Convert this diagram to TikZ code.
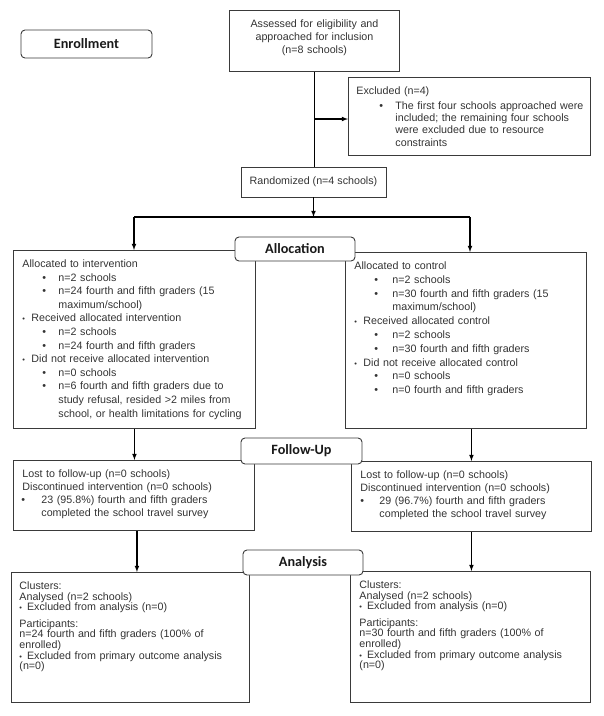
\documentclass[tikz,border=0pt]{standalone}
\usepackage{fontspec}
\setmainfont{Liberation Sans}
\newfontfamily\calibri{Carlito}
\definecolor{txtgray}{HTML}{333333}
\definecolor{linegray}{HTML}{3A3A3A}
\setlength{\parskip}{1pt}
\setlength{\parindent}{0pt}
\newcommand{\smallbul}{{\fontsize{7.5}{7.5}\selectfont\textbullet}}
\newcommand{\bul}[4][\textbullet]{\par{\leftskip=#3\rightskip=-30pt plus 1fil\noindent\hskip\dimexpr#2-#3\relax\makebox[\dimexpr#3-#2\relax][l]{#1}#4\par}}
\tikzset{
  box/.style={draw=linegray, line width=0.9pt, anchor=north west, inner xsep=9pt, inner ysep=9pt,
    text height=8pt, align=left, text=txtgray, font=\fontsize{10.7}{13}\selectfont},
  stage/.style={draw=linegray, line width=0.9pt, rounded corners=4pt, fill=white, inner sep=0pt,
    text=black!90, font=\calibri\bfseries\fontsize{14.2}{16}\selectfont},
  arr/.style={draw, line width=1.1pt, -latex}
}
\begin{document}
\begin{tikzpicture}[x=1pt, y=-1pt]
\useasboundingbox (0,0) rectangle (604,716);
\node [box, text width=152pt, text depth=35pt, align=center] (assess) at (229,10) {Assessed for eligibility and\\ approached for inclusion\\ (n=8 schools)};
\node [box, inner xsep=8pt, text width=226pt, text depth=52pt, font=\fontsize{10.7}{12.2}\selectfont] (excl) at (348,77) {Excluded (n=4)\par\vspace{2.8pt}
  \bul{23pt}{39pt}{The first four schools approached were\newline included; the remaining four schools\newline were excluded due to resource\newline constraints}};
\node [draw=linegray, line width=0.9pt, minimum width=145pt, minimum height=30pt, inner sep=0pt, text=txtgray, font=\fontsize{10.7}{13}\selectfont] (random) at (313.5,182) {Randomized (n=4 schools)};
\node [box, text width=224pt, text depth=152pt, font=\fontsize{10.7}{13.6}\selectfont] (alloc1) at (13,250) {Allocated to intervention
  \bul{20pt}{36pt}{n=2 schools}
  \bul{20pt}{36pt}{n=24 fourth and fifth graders (15\newline maximum/school)}
  \bul[\smallbul]{0pt}{9pt}{Received allocated intervention}
  \bul{20pt}{36pt}{n=2 schools}
  \bul{20pt}{36pt}{n=24 fourth and fifth graders}
  \bul[\smallbul]{0pt}{9pt}{Did not receive allocated intervention}
  \bul{20pt}{36pt}{n=0 schools}
  \bul{20pt}{36pt}{n=6 fourth and fifth graders due to\newline study refusal, resided >2 miles from\newline school, or health limitations for cycling}};
\node [box, text width=223pt, text depth=150pt, font=\fontsize{10.7}{13.8}\selectfont] (alloc2) at (345,252) {Allocated to control
  \bul{20pt}{38pt}{n=2 schools}
  \bul{20pt}{38pt}{n=30 fourth and fifth graders (15\newline maximum/school)}
  \bul[\smallbul]{0pt}{9pt}{Received allocated control}
  \bul{20pt}{38pt}{n=2 schools}
  \bul{20pt}{38pt}{n=30 fourth and fifth graders}
  \bul[\smallbul]{0pt}{9pt}{Did not receive allocated control}
  \bul{20pt}{38pt}{n=0 schools}
  \bul{20pt}{38pt}{n=0 fourth and fifth graders}};
\node [box, text width=223pt, text depth=44pt] (fu1) at (13,460) {Lost to follow-up (n=0 schools)\newline Discontinued intervention (n=0 schools)
  \bul{-1pt}{19pt}{23 (95.8\%) fourth and fifth graders\newline completed the school travel survey}};
\node [box, text width=222pt, text depth=44pt] (fu2) at (351,461) {Lost to follow-up (n=0 schools)\newline Discontinued intervention (n=0 schools)
  \bul{0pt}{19pt}{29 (96.7\%) fourth and fifth graders\newline completed the school travel survey}};
\node [box, inner xsep=8pt, text width=222pt, text depth=104pt, font=\fontsize{10.7}{10.7}\selectfont] (an1) at (11,572) {Clusters:\newline Analysed (n=2 schools)\newline \makebox[7.6pt][l]{\smallbul}Excluded from analysis (n=0)\par\vspace{5.6pt}
  Participants:\newline n=24 fourth and fifth graders (100\% of\newline enrolled)\newline \makebox[7.6pt][l]{\smallbul}Excluded from primary outcome analysis\newline (n=0)};
\node [box, text width=222pt, text depth=105pt, font=\fontsize{10.7}{10.7}\selectfont] (an2) at (350,571) {Clusters:\newline Analysed (n=2 schools)\newline \makebox[7.6pt][l]{\smallbul}Excluded from analysis (n=0)\par\vspace{5.6pt}
  Participants:\newline n=30 fourth and fifth graders (100\% of\newline enrolled)\newline \makebox[7.6pt][l]{\smallbul}Excluded from primary outcome analysis\newline (n=0)};
\node [stage, minimum width=131pt, minimum height=28pt] (enroll) at (86.5,44) {Enrollment};
\node [stage, minimum width=120pt, minimum height=24pt] (allocation) at (295,249) {Allocation};
\node [stage, minimum width=121pt, minimum height=26pt] (followup) at (301.5,451) {Follow-Up};
\node [stage, minimum width=120pt, minimum height=25pt] (analysis) at (303,562.5) {Analysis};
\coordinate (split) at (assess.south |- 0,119);
\coordinate (fork) at (random.south |- 0,217);
\coordinate (forkL) at (134,217);
\coordinate (forkR) at (470,217);
\draw [line width=1.1pt] (assess.south) -- (assess.south |- random.north);
\draw [arr] (split) -- (split -| excl.west);
\draw [arr] (random.south) -- (fork);
\draw [line width=1.1pt] (forkL) -- (forkR);
\draw [arr] (forkL) -- (forkL |- alloc1.north);
\draw [arr] (forkR) -- (forkR |- alloc2.north);
\draw [arr] (alloc1.south) -- (alloc1.south |- fu1.north);
\draw [arr] (fu2.north |- alloc2.south) -- (fu2.north);
\draw [arr] ([xshift=3pt]fu1.south) -- ([xshift=3pt]fu1.south |- an1.north);
\draw [arr] (fu2.south) -- (fu2.south |- an2.north);
\end{tikzpicture}
\end{document}
